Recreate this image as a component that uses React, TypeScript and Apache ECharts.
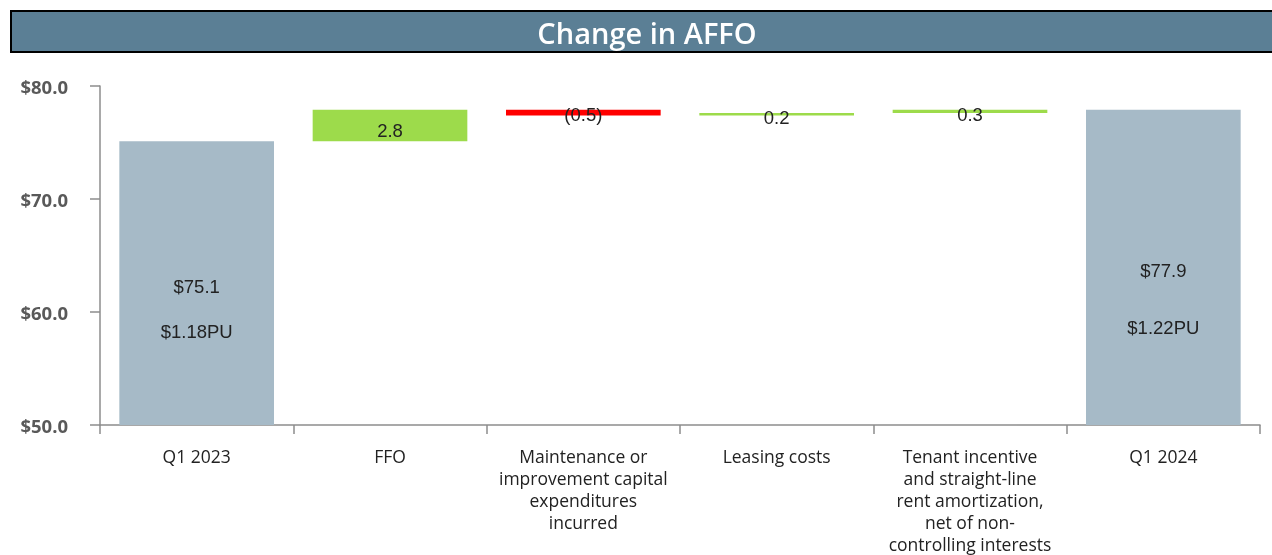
import React, { useEffect, useRef } from "react";
import * as echarts from "echarts";

const categories = [
  "Q1 2023",
  "FFO",
  "Maintenance or\nimprovement capital\nexpenditures\nincurred",
  "Leasing costs",
  "Tenant incentive\nand straight-line\nrent amortization,\nnet of non-\ncontrolling interests",
  "Q1 2024",
];
const startValue = 75.1;
const changes = [2.8, -0.5, 0.2, 0.3];
const endValue = 77.9;
const startPerUnit = "$1.18PU";
const endPerUnit = "$1.22PU";
const yTicks = [50, 60, 70, 80];

export default function App() {
  const ref = useRef<HTMLDivElement>(null);
  useEffect(() => {
    if (!ref.current) return;
    const chart = echarts.init(ref.current, null, { renderer: "svg" });

    const base: number[] = [0];
    const vis: any[] = [];
    let run = startValue;
    vis.push({
      value: startValue,
      itemStyle: { color: "#a6bac7" },
      label: {
        show: true,
        position: "inside",
        formatter: `$${startValue.toFixed(1)}\n\n${startPerUnit}`,
        lineHeight: 22.5,
        offset: [0, 26],
      },
    });
    changes.forEach((c) => {
      const lo = c >= 0 ? run : run + c;
      base.push(lo);
      vis.push({
        value: Math.abs(c),
        itemStyle: { color: c >= 0 ? "#9ddb4b" : "#ff0000" },
        label: {
          show: true,
          position: "inside",
          formatter: c >= 0 ? c.toFixed(1) : `(${Math.abs(c).toFixed(1)})`,
          offset: Math.abs(c) > 1 ? [0, 5] : c < 0 ? [0, 2] : [0, 3],
        },
      });
      run += c;
    });
    base.push(0);
    vis.push({
      value: endValue,
      itemStyle: { color: "#a6bac7" },
      label: {
        show: true,
        position: "inside",
        formatter: `$${endValue.toFixed(1)}\n\n${endPerUnit}`,
        lineHeight: 28.5,
        offset: [0, 31.5],
      },
    });

    chart.setOption({
      animation: false,
      grid: { left: 100, right: 12, top: 86, bottom: 127 },
      graphic: [
        {
          type: "rect",
          shape: { x: 11, y: 11, width: 1275, height: 41 },
          style: { fill: "#5b7f95", stroke: "#000", lineWidth: 2 },
        },
        {
          type: "text",
          x: 647,
          y: 32,
          style: {
            text: "Change in AFFO",
            fill: "#fff",
            font: "600 29px 'Open Sans', sans-serif",
            align: "center",
            verticalAlign: "middle",
          },
        },
      ],
      xAxis: {
        type: "category",
        data: categories,
        axisLine: { lineStyle: { color: "#8c8c8c", width: 1.5 } },
        axisTick: { show: true, length: 9, lineStyle: { color: "#8c8c8c", width: 1.5 } },
        axisLabel: {
          color: "#222",
          fontSize: 17.5,
          fontFamily: "'Open Sans', sans-serif",
          lineHeight: 22,
          margin: 20,
          interval: 0,
        },
      },
      yAxis: {
        type: "value",
        min: yTicks[0],
        max: yTicks[yTicks.length - 1],
        interval: 10,
        splitLine: { show: false },
        axisLine: { show: true, lineStyle: { color: "#8c8c8c", width: 1.5 } },
        axisTick: { show: true, length: 10, lineStyle: { color: "#8c8c8c", width: 1.5 } },
        axisLabel: {
          color: "#595959",
          fontSize: 18.5,
          fontWeight: "bold",
          fontFamily: "'Open Sans', sans-serif",
          margin: 32,
          padding: [5, 0, 0, 0],
          formatter: (v: number) => `$${v.toFixed(1)}`,
        },
      },
      series: [
        {
          type: "bar",
          stack: "w",
          data: base,
          itemStyle: { color: "transparent" },
          barCategoryGap: "20%",
          silent: true,
        },
        {
          type: "bar",
          stack: "w",
          data: vis,
          barCategoryGap: "20%",
          label: {
            color: "#222",
            fontSize: 18.5,
            fontFamily: "'Liberation Sans', Arial, sans-serif",
          },
        },
      ],
    });
    return () => chart.dispose();
  }, []);
  return (
    <div
      ref={ref}
      style={{ position: "fixed", left: 0, top: 0, width: 1272, height: 555 }}
    />
  );
}
